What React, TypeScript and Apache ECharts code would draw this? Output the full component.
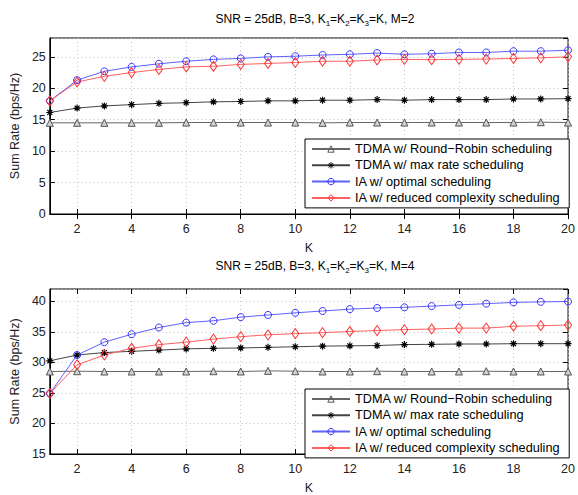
import React, { useEffect, useRef } from "react";
import * as echarts from "echarts";

const K = ["1","2","3","4","5","6","7","8","9","10","11","12","13","14","15","16","17","18","19","20"];

const names = [
  "TDMA w/ Round\u2212Robin scheduling",
  "TDMA w/ max rate scheduling",
  "IA w/ optimal scheduling",
  "IA w/ reduced complexity scheduling",
];

// M = 2
const rrM2 = [14.5,14.5,14.5,14.5,14.5,14.55,14.55,14.55,14.55,14.55,14.5,14.55,14.55,14.55,14.55,14.55,14.55,14.55,14.6,14.55];
const maxM2 = [16.15,16.85,17.2,17.4,17.6,17.7,17.85,17.9,18.0,18.0,18.1,18.1,18.2,18.1,18.2,18.2,18.2,18.3,18.3,18.35];
const optM2 = [18.0,21.3,22.7,23.4,23.9,24.3,24.6,24.75,25.0,25.1,25.3,25.4,25.6,25.4,25.5,25.7,25.7,25.9,25.9,26.05];
const redM2 = [18.0,21.0,21.9,22.5,23.0,23.4,23.5,23.8,23.95,24.1,24.3,24.3,24.5,24.6,24.55,24.6,24.65,24.75,24.85,25.0];

// M = 4
const rrM4 = [28.5,28.55,28.5,28.5,28.5,28.5,28.55,28.5,28.6,28.55,28.5,28.5,28.55,28.5,28.5,28.5,28.55,28.5,28.5,28.5];
const maxM4 = [30.25,31.2,31.6,31.8,32.0,32.2,32.3,32.35,32.45,32.55,32.65,32.7,32.75,32.9,32.95,33.0,33.0,33.05,33.05,33.05];
const optM4 = [24.9,31.2,33.3,34.6,35.7,36.5,36.8,37.4,37.75,38.1,38.4,38.7,38.9,39.0,39.2,39.4,39.6,39.8,39.9,39.95];
const redM4 = [24.9,29.6,31.2,32.3,32.9,33.3,33.8,34.2,34.5,34.7,34.85,35.05,35.2,35.35,35.45,35.6,35.6,35.9,36.0,36.1];

const FONT = "Liberation Sans, Arial, sans-serif";
const even = (i: number) => i % 2 === 1;

const star = "path://M-5,0L5,0M0,-5L0,5M-3.5,-3.5L3.5,3.5M-3.5,3.5L3.5,-3.5";

function seriesFor(gi: number, rr: number[], mx: number[], opt: number[], red: number[]) {
  const base = { type: "line", xAxisIndex: gi * 2, yAxisIndex: gi * 2, z: 3 };
  return [
    { ...base, name: names[0], data: rr, symbol: "triangle", symbolSize: 7,
      lineStyle: { color: "#666", width: 1 },
      itemStyle: { color: "#d2d2d2", borderColor: "#555", borderWidth: 1 } },
    { ...base, name: names[1], data: mx, symbol: star, symbolSize: 7,
      lineStyle: { color: "#444", width: 1 },
      itemStyle: { color: "none", borderColor: "#000", borderWidth: 1.2 } },
    { ...base, name: names[2], data: opt, symbol: "circle", symbolSize: 7,
      lineStyle: { color: "#6060ff", width: 1 },
      itemStyle: { color: "rgba(0,0,0,0)", borderColor: "#3333ff", borderWidth: 1 } },
    { ...base, name: names[3], data: red, symbol: "diamond", symbolSize: [7, 10],
      lineStyle: { color: "#ff6060", width: 1 },
      itemStyle: { color: "rgba(0,0,0,0)", borderColor: "#ff3333", borderWidth: 1 } },
  ];
}

function title(m: number, top: number) {
  return {
    left: 310, top, textAlign: "center",
    text: `{t|SNR = 25dB, B=3, K}{s|1}{t|=K}{s|2}{t|=K}{s|3}{t|=K, M=${m}}`,
    textStyle: {
      fontWeight: "normal",
      rich: {
        t: { fontFamily: FONT, fontSize: 12, fontWeight: "normal", color: "#000", lineHeight: 16, verticalAlign: "middle" },
        s: { fontFamily: FONT, fontSize: 8, fontWeight: "normal", color: "#000", lineHeight: 16, verticalAlign: "bottom", padding: [6, 0, 0, 0] },
      },
    },
  };
}

function xAxes(gi: number) {
  return [
    { type: "category", gridIndex: gi, data: K, boundaryGap: false, position: "bottom",
      name: "K", nameLocation: "middle", nameGap: 27,
      nameTextStyle: { fontFamily: FONT, fontSize: 12.5, color: "#222" },
      axisLine: { show: true, lineStyle: { color: "#000" } },
      axisTick: { inside: true, length: 5, interval: even, lineStyle: { color: "#000" } },
      axisLabel: { interval: even, margin: 8, fontFamily: FONT, fontSize: 12.5, color: "#222" },
      splitLine: { show: true, interval: even, lineStyle: { type: [1, 3], color: "#c4c4c4" } } },
    { type: "category", gridIndex: gi, data: K, boundaryGap: false, position: "top",
      axisLine: { show: false },
      axisTick: { inside: true, length: 5, interval: even, lineStyle: { color: "#000" } },
      axisLabel: { show: false }, splitLine: { show: false } },
  ];
}

function yAxes(gi: number, min: number, max: number) {
  return [
    { type: "value", gridIndex: gi, min, max, interval: 5, position: "left",
      name: "Sum Rate (bps/Hz)", nameLocation: "middle", nameGap: 25,
      nameTextStyle: { fontFamily: FONT, fontSize: 12.5, color: "#222" },
      axisLine: { show: true, lineStyle: { color: "#000" } },
      axisTick: { show: true, inside: true, length: 5, lineStyle: { color: "#000" } },
      axisLabel: { showMaxLabel: false, margin: 4, fontFamily: FONT, fontSize: 12.5, color: "#222" },
      splitLine: { show: true, lineStyle: { type: [1, 3], color: "#c4c4c4" } } },
    { type: "value", gridIndex: gi, min, max, interval: 5, position: "right",
      axisLine: { show: false },
      axisTick: { show: true, inside: true, length: 5, lineStyle: { color: "#000" } },
      axisLabel: { show: false }, splitLine: { show: false } },
  ];
}

function legend(top: number) {
  return {
    left: 305, top, orient: "vertical", data: names,
    backgroundColor: "#fff", borderColor: "#000", borderWidth: 1,
    padding: [3, 9, 3, 6], itemGap: 2.3, itemWidth: 38, itemHeight: 8,
    itemStyle: { color: "rgba(0,0,0,0)", borderWidth: 1 },
    textStyle: { fontFamily: FONT, fontSize: 12.7, color: "#000", lineHeight: 14 },
    selectedMode: false,
  };
}

export default function App() {
  const ref = useRef<HTMLDivElement>(null);
  useEffect(() => {
    document.body.style.margin = "0";
    const chart = echarts.init(ref.current!, null, { renderer: "svg" });
    chart.setOption({
      animation: false,
      backgroundColor: "#fff",
      title: [title(2, 6), title(4, 253)],
      grid: [
        { left: 48, right: 7, top: 38, height: 176, show: true, borderColor: "#000", borderWidth: 1 },
        { left: 48, right: 7, top: 289, height: 176, show: true, borderColor: "#000", borderWidth: 1 },
      ],
      xAxis: [...xAxes(0), ...xAxes(1)],
      yAxis: [...yAxes(0, 0, 28), ...yAxes(1, 15, 42)],
      legend: [legend(139), legend(389)],
      series: [...seriesFor(0, rrM2, maxM2, optM2, redM2), ...seriesFor(1, rrM4, maxM4, optM4, redM4)],
    });
    return () => chart.dispose();
  }, []);
  return <div ref={ref} style={{ width: 578, height: 495 }} />;
}
